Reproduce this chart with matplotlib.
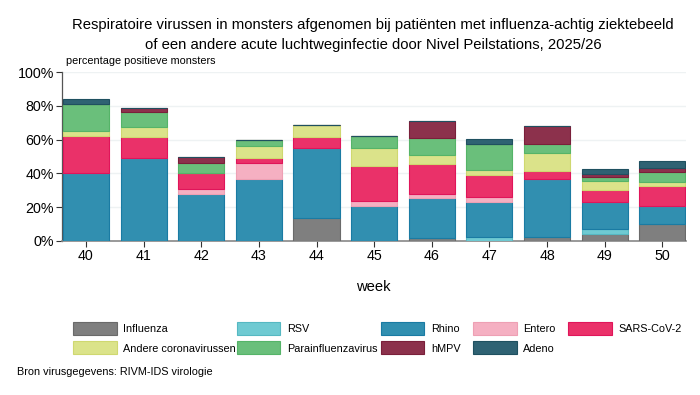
import matplotlib
matplotlib.use("Agg")
import matplotlib.pyplot as plt
from matplotlib.patches import Rectangle
import numpy as np

plt.rcParams['font.family'] = ['Liberation Sans', 'DejaVu Sans']

weeks = ["40", "41", "42", "43", "44", "45", "46", "47", "48", "49", "50"]
influenza = [0, 0, 0, 0, 13.4, 0, 2.0, 0, 2.2, 4.3, 10.1]
rsv = [0, 0, 0, 0, 0, 0, 0, 2.4, 0, 2.6, 0]
rhino = [40.0, 49.4, 27.7, 36.4, 41.5, 20.6, 23.3, 20.9, 34.2, 16.4, 10.5]
entero = [0, 0, 3.3, 9.8, 0, 3.3, 2.6, 2.8, 0, 0, 0]
sars = [22.0, 11.9, 9.1, 3.2, 6.8, 20.6, 17.9, 13.0, 5.3, 7.1, 12.2]
andere_corona = [3.3, 5.9, 0, 6.7, 7.1, 10.4, 5.0, 2.8, 10.5, 5.0, 2.2]
parainfluenza = [15.8, 8.9, 6.3, 3.6, 0, 7.0, 10.3, 15.6, 5.3, 2.3, 6.1]
hmpv = [0, 2.8, 3.4, 0, 0, 0, 10.2, 0, 10.7, 2.2, 2.2]
adeno = [3.0, 0, 0, 0, 0, 0, 0, 2.6, 0, 2.6, 4.3]

series_names = ["Influenza", "RSV", "Rhino", "Entero", "SARS-CoV-2",
                "Andere coronavirussen", "Parainfluenzavirus", "hMPV", "Adeno"]
series_values = [influenza, rsv, rhino, entero, sars,
                 andere_corona, parainfluenza, hmpv, adeno]
colors = ["#7f7f7f", "#6fcad2", "#318fb0", "#f5b0c2", "#ea3169",
          "#dbe38a", "#6abf7b", "#8c314c", "#2f6273"]
edges = ["#6a6a6a", "#56b8c2", "#1a7ba3", "#eea0b4", "#e0155a",
         "#cfd870", "#55b468", "#7a1f3a", "#1f5060"]

fig = plt.figure(figsize=(7.0, 3.95), dpi=100)
ax = fig.add_axes([62.3/700, 1-241/395, (686-62.3)/700, (241-72)/395])

x = np.arange(len(weeks))
bottom = np.zeros(len(weeks))
for name, vals, c, ec in zip(series_names, series_values, colors, edges):
    v = np.array(vals, dtype=float)
    ax.bar(x, v, width=0.8, bottom=bottom, color=c, edgecolor=ec,
           linewidth=0.8, zorder=3)
    bottom += v

ax.set_xlim(-0.41, 10.41)
ax.set_ylim(0, 100)
ax.set_yticks([0, 20, 40, 60, 80, 100])
ax.set_yticklabels([f"{t}%" for t in [0, 20, 40, 60, 80, 100]], fontsize=10.3)
ax.set_xticks(x)
ax.set_xticklabels(weeks, fontsize=10.3)
ax.tick_params(axis='both', length=4, width=0.8, color='#333333', pad=2)
ax.grid(axis='y', color='#eef2f3', linewidth=1, zorder=0)
for s in ['top', 'right']:
    ax.spines[s].set_visible(False)
ax.spines['left'].set_color('#555555')
ax.spines['bottom'].set_color('#888888')
ax.spines['left'].set_linewidth(0.9)
ax.spines['bottom'].set_linewidth(1.2)

fig.text(373/700, 1-290.7/395, "week", ha='center', va='baseline', fontsize=10.6)
fig.text(373/700, 1-29/395, "Respiratoire virussen in monsters afgenomen bij patiënten met influenza-achtig ziektebeeld",
         ha='center', va='baseline', fontsize=10.7)
fig.text(373/700, 1-49/395, "of een andere acute luchtweginfectie door Nivel Peilstations, 2025/26",
         ha='center', va='baseline', fontsize=10.7)
fig.text(65.7/700, 1-64.5/395, "percentage positieve monsters", ha='left', va='baseline', fontsize=7.8)
fig.text(17/700, 1-375/395, "Bron virusgegevens: RIVM-IDS virologie", ha='left', va='baseline', fontsize=7.8)

# legend
col_x = [73.3, 236.7, 381, 473.3, 568.3, 73.3, 236.7, 381, 473.3]
row_y = [328.3, 328.3, 328.3, 328.3, 328.3, 347.7, 347.7, 347.7, 347.7]
for name, c, ec, cx, ry in zip(series_names, colors, edges, col_x, row_y):
    fig.patches.append(Rectangle((cx/700, 1-(ry+6.6)/395), 43.4/700, 13.3/395,
                                 transform=fig.transFigure, facecolor=c,
                                 edgecolor=ec, linewidth=0.8))
    fig.text((cx+50)/700, 1-(ry+3.8)/395, name, ha='left', va='baseline', fontsize=7.8)

fig.savefig("out.png", dpi=100)
